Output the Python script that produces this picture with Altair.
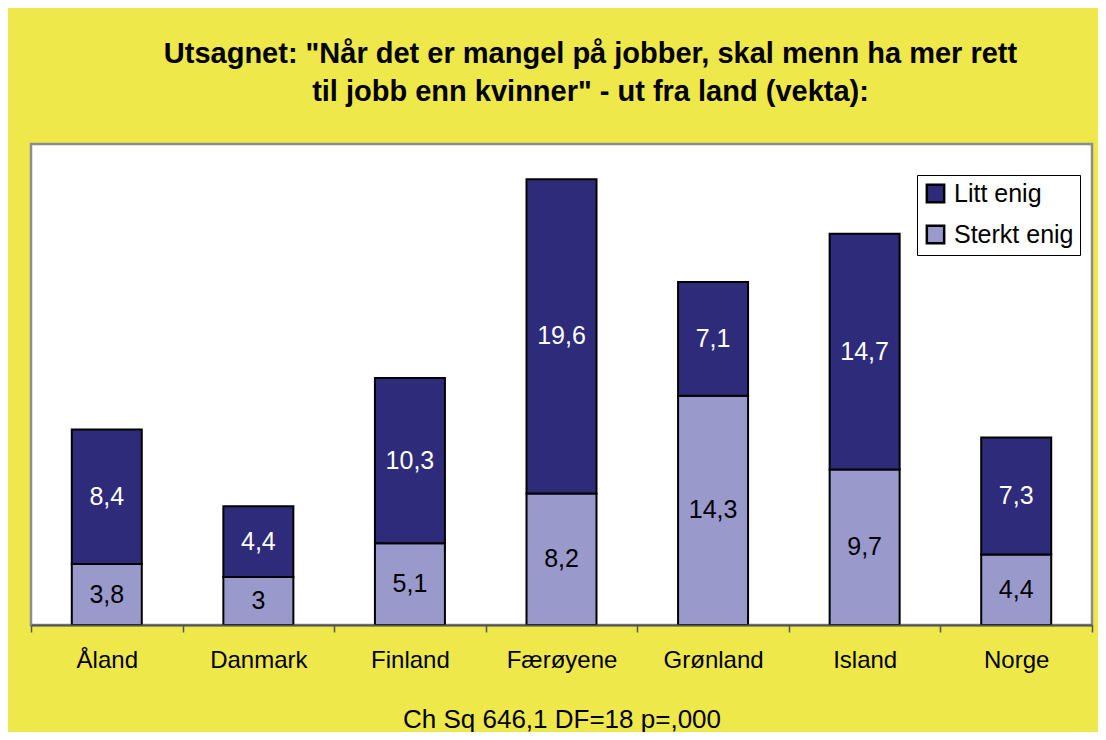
import altair as alt
import pandas as pd

countries = ["Åland", "Danmark", "Finland", "Færøyene", "Grønland", "Island", "Norge"]
sterkt_enig = [3.8, 3.0, 5.1, 8.2, 14.3, 9.7, 4.4]
litt_enig = [8.4, 4.4, 10.3, 19.6, 7.1, 14.7, 7.3]
series_names = ["Litt enig", "Sterkt enig"]
series_colors = ["#2E2C7A", "#9999CC"]

title_lines = ['Utsagnet: "Når det er mangel på jobber, skal menn ha mer rett',
               'til jobb enn kvinner" - ut fra land (vekta):']
footer = "Ch Sq 646,1 DF=18 p=,000"


def fmt(v):
    return f"{v:g}".replace(".", ",")


rows = []
for c, s, l in zip(countries, sterkt_enig, litt_enig):
    rows.append({"country": c, "series": "Sterkt enig", "value": s, "ord": 0, "label": fmt(s)})
    rows.append({"country": c, "series": "Litt enig", "value": l, "ord": 1, "label": fmt(l)})
df = pd.DataFrame(rows)

FONT = "Liberation Sans"

x_enc = alt.X(
    "country:N",
    sort=countries,
    scale=alt.Scale(paddingInner=0, paddingOuter=0),
    axis=alt.Axis(
        title=footer,
        labelAngle=0,
        labelFontSize=24,
        labelFont=FONT,
        labelColor="black",
        labelPadding=16,
        tickBand="extent",
        tickSize=7,
        tickColor="#555555",
        tickWidth=1.5,
        domainColor="#555555",
        domainWidth=2,
        titleFontSize=26,
        titleFont=FONT,
        titleFontWeight="normal",
        titleColor="black",
        titlePadding=34,
        zindex=1,
    ),
)

bars = alt.Chart(df).mark_bar(size=70, stroke="black", strokeWidth=2).encode(
    x=x_enc,
    y=alt.Y("value:Q", stack="zero", scale=alt.Scale(domain=[0, 30], nice=False), axis=None),
    color=alt.Color(
        "series:N",
        scale=alt.Scale(domain=series_names, range=series_colors),
        legend=alt.Legend(
            title=None,
            orient="none",
            legendX=886,
            legendY=31,
            direction="vertical",
            fillColor="white",
            strokeColor="black",
            padding=6,
            symbolType="square",
            symbolSize=300,
            symbolStrokeColor="black",
            symbolStrokeWidth=2.5,
            labelFontSize=25,
            labelFont=FONT,
            labelColor="black",
            labelOffset=6,
            rowPadding=12,
        ),
    ),
    order=alt.Order("ord:Q", sort="ascending"),
)

labels = alt.Chart(df).transform_stack(
    stack="value",
    groupby=["country"],
    sort=[alt.SortField("ord", order="ascending")],
    as_=["y0", "y1"],
).transform_calculate(
    mid="(datum.y0 + datum.y1) / 2"
).mark_text(fontSize=25, font=FONT, baseline="middle", align="center").encode(
    x=alt.X("country:N", sort=countries),
    y=alt.Y("mid:Q"),
    text="label:N",
    color=alt.condition("datum.series == 'Litt enig'", alt.value("white"), alt.value("black")),
)

chart = alt.layer(bars, labels).properties(
    width=1061,
    height=481,
    autosize=alt.AutoSizeParams(type="none"),
    padding={"left": 23, "top": 136, "right": 6, "bottom": 107},
    background="#EEE84A",
    title=alt.TitleParams(
        text=title_lines,
        fontSize=29,
        font=FONT,
        fontWeight="bold",
        color="black",
        lineHeight=38,
        anchor="middle",
        dx=29,
        offset=37,
    ),
).configure_view(
    fill="white",
    stroke="#8C8C8C",
    strokeWidth=2.5,
)

chart.save("out.html", embed_options={"renderer": "svg", "actions": False})
